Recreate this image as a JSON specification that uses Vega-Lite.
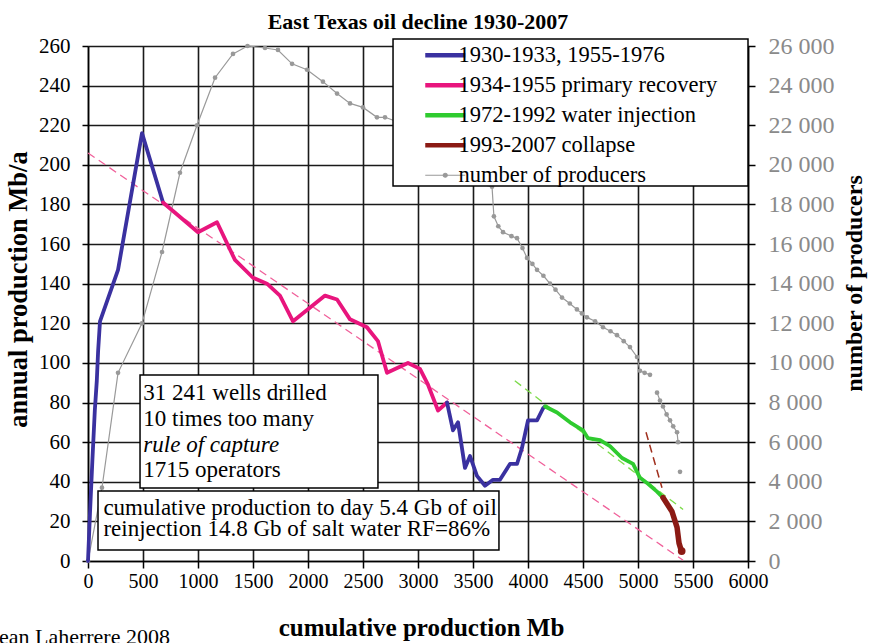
{
  "$schema": "https://vega.github.io/schema/vega-lite/v6.json",
  "width": 660,
  "height": 515,
  "autosize": {"type": "none"},
  "padding": {"left": 88, "top": 46, "right": 122, "bottom": 82},
  "background": "white",
  "title": {"text": "East Texas oil decline 1930-2007", "font": "Liberation Serif", "fontSize": 22, "fontWeight": "bold", "color": "black", "anchor": "middle", "offset": 0},
  "datasets": {
    "prod": [
      {"cum": 0, "mbpa": 0, "period": "1930-1933, 1955-1976", "seg": "a"},
      {"cum": 18, "mbpa": 24, "period": "1930-1933, 1955-1976", "seg": "a"},
      {"cum": 40, "mbpa": 51, "period": "1930-1933, 1955-1976", "seg": "a"},
      {"cum": 62, "mbpa": 76, "period": "1930-1933, 1955-1976", "seg": "a"},
      {"cum": 80, "mbpa": 91, "period": "1930-1933, 1955-1976", "seg": "a"},
      {"cum": 92, "mbpa": 106, "period": "1930-1933, 1955-1976", "seg": "a"},
      {"cum": 109, "mbpa": 121, "period": "1930-1933, 1955-1976", "seg": "a"},
      {"cum": 273, "mbpa": 147, "period": "1930-1933, 1955-1976", "seg": "a"},
      {"cum": 491, "mbpa": 216, "period": "1930-1933, 1955-1976", "seg": "a"},
      {"cum": 682, "mbpa": 181, "period": "1930-1933, 1955-1976", "seg": "a"},
      {"cum": 682, "mbpa": 181, "period": "1934-1955 primary recovery", "seg": "p"},
      {"cum": 1000, "mbpa": 166, "period": "1934-1955 primary recovery", "seg": "p"},
      {"cum": 1173, "mbpa": 171, "period": "1934-1955 primary recovery", "seg": "p"},
      {"cum": 1336, "mbpa": 152, "period": "1934-1955 primary recovery", "seg": "p"},
      {"cum": 1500, "mbpa": 143, "period": "1934-1955 primary recovery", "seg": "p"},
      {"cum": 1627, "mbpa": 140, "period": "1934-1955 primary recovery", "seg": "p"},
      {"cum": 1745, "mbpa": 134, "period": "1934-1955 primary recovery", "seg": "p"},
      {"cum": 1864, "mbpa": 121, "period": "1934-1955 primary recovery", "seg": "p"},
      {"cum": 2155, "mbpa": 134, "period": "1934-1955 primary recovery", "seg": "p"},
      {"cum": 2264, "mbpa": 132, "period": "1934-1955 primary recovery", "seg": "p"},
      {"cum": 2382, "mbpa": 122, "period": "1934-1955 primary recovery", "seg": "p"},
      {"cum": 2536, "mbpa": 118, "period": "1934-1955 primary recovery", "seg": "p"},
      {"cum": 2564, "mbpa": 116, "period": "1934-1955 primary recovery", "seg": "p"},
      {"cum": 2636, "mbpa": 111, "period": "1934-1955 primary recovery", "seg": "p"},
      {"cum": 2718, "mbpa": 95, "period": "1934-1955 primary recovery", "seg": "p"},
      {"cum": 2909, "mbpa": 100, "period": "1934-1955 primary recovery", "seg": "p"},
      {"cum": 3018, "mbpa": 97, "period": "1934-1955 primary recovery", "seg": "p"},
      {"cum": 3091, "mbpa": 89, "period": "1934-1955 primary recovery", "seg": "p"},
      {"cum": 3182, "mbpa": 76, "period": "1934-1955 primary recovery", "seg": "p"},
      {"cum": 3264, "mbpa": 80, "period": "1934-1955 primary recovery", "seg": "p"},
      {"cum": 3264, "mbpa": 80, "period": "1930-1933, 1955-1976", "seg": "b"},
      {"cum": 3318, "mbpa": 66, "period": "1930-1933, 1955-1976", "seg": "b"},
      {"cum": 3364, "mbpa": 70, "period": "1930-1933, 1955-1976", "seg": "b"},
      {"cum": 3427, "mbpa": 47, "period": "1930-1933, 1955-1976", "seg": "b"},
      {"cum": 3473, "mbpa": 53, "period": "1930-1933, 1955-1976", "seg": "b"},
      {"cum": 3536, "mbpa": 43, "period": "1930-1933, 1955-1976", "seg": "b"},
      {"cum": 3609, "mbpa": 38, "period": "1930-1933, 1955-1976", "seg": "b"},
      {"cum": 3682, "mbpa": 41, "period": "1930-1933, 1955-1976", "seg": "b"},
      {"cum": 3745, "mbpa": 41, "period": "1930-1933, 1955-1976", "seg": "b"},
      {"cum": 3836, "mbpa": 49, "period": "1930-1933, 1955-1976", "seg": "b"},
      {"cum": 3900, "mbpa": 49, "period": "1930-1933, 1955-1976", "seg": "b"},
      {"cum": 3945, "mbpa": 57, "period": "1930-1933, 1955-1976", "seg": "b"},
      {"cum": 4000, "mbpa": 71, "period": "1930-1933, 1955-1976", "seg": "b"},
      {"cum": 4082, "mbpa": 71, "period": "1930-1933, 1955-1976", "seg": "b"},
      {"cum": 4136, "mbpa": 77, "period": "1930-1933, 1955-1976", "seg": "b"},
      {"cum": 4155, "mbpa": 78, "period": "1930-1933, 1955-1976", "seg": "b"},
      {"cum": 4155, "mbpa": 78, "period": "1972-1992 water injection", "seg": "g"},
      {"cum": 4264, "mbpa": 75, "period": "1972-1992 water injection", "seg": "g"},
      {"cum": 4382, "mbpa": 70, "period": "1972-1992 water injection", "seg": "g"},
      {"cum": 4500, "mbpa": 66, "period": "1972-1992 water injection", "seg": "g"},
      {"cum": 4545, "mbpa": 62, "period": "1972-1992 water injection", "seg": "g"},
      {"cum": 4655, "mbpa": 61, "period": "1972-1992 water injection", "seg": "g"},
      {"cum": 4745, "mbpa": 58, "period": "1972-1992 water injection", "seg": "g"},
      {"cum": 4855, "mbpa": 52, "period": "1972-1992 water injection", "seg": "g"},
      {"cum": 4955, "mbpa": 49, "period": "1972-1992 water injection", "seg": "g"},
      {"cum": 5018, "mbpa": 42, "period": "1972-1992 water injection", "seg": "g"},
      {"cum": 5091, "mbpa": 39, "period": "1972-1992 water injection", "seg": "g"},
      {"cum": 5173, "mbpa": 35, "period": "1972-1992 water injection", "seg": "g"},
      {"cum": 5227, "mbpa": 32, "period": "1972-1992 water injection", "seg": "g"},
      {"cum": 5227, "mbpa": 32, "period": "1993-2007 collapse", "seg": "r"},
      {"cum": 5309, "mbpa": 25, "period": "1993-2007 collapse", "seg": "r"},
      {"cum": 5355, "mbpa": 17, "period": "1993-2007 collapse", "seg": "r"},
      {"cum": 5373, "mbpa": 9, "period": "1993-2007 collapse", "seg": "r"},
      {"cum": 5395, "mbpa": 5, "period": "1993-2007 collapse", "seg": "r"}
    ],
    "producers": [
      {"cum": 0, "producers": 0, "part": 1},
      {"cum": 127, "producers": 3700, "part": 1},
      {"cum": 273, "producers": 9500, "part": 1},
      {"cum": 491, "producers": 12000, "part": 1},
      {"cum": 673, "producers": 15600, "part": 1},
      {"cum": 836, "producers": 19600, "part": 1},
      {"cum": 991, "producers": 22000, "part": 1},
      {"cum": 1155, "producers": 24400, "part": 1},
      {"cum": 1318, "producers": 25600, "part": 1},
      {"cum": 1450, "producers": 26000, "part": 1},
      {"cum": 1609, "producers": 25900, "part": 1},
      {"cum": 1727, "producers": 25800, "part": 1},
      {"cum": 1855, "producers": 25100, "part": 1},
      {"cum": 1991, "producers": 24800, "part": 1},
      {"cum": 2136, "producers": 24200, "part": 1},
      {"cum": 2264, "producers": 23600, "part": 1},
      {"cum": 2382, "producers": 23100, "part": 1},
      {"cum": 2500, "producers": 22900, "part": 1},
      {"cum": 2627, "producers": 22400, "part": 1},
      {"cum": 2700, "producers": 22400, "part": 1},
      {"cum": 2850, "producers": 22100, "part": 1},
      {"cum": 3000, "producers": 21400, "part": 1},
      {"cum": 3150, "producers": 20600, "part": 1},
      {"cum": 3300, "producers": 19800, "part": 1},
      {"cum": 3450, "producers": 19200, "part": 1},
      {"cum": 3673, "producers": 18900, "part": 1},
      {"cum": 3690, "producers": 17400, "part": 1},
      {"cum": 3730, "producers": 16900, "part": 1},
      {"cum": 3773, "producers": 16600, "part": 1},
      {"cum": 3850, "producers": 16400, "part": 1},
      {"cum": 3900, "producers": 16300, "part": 1},
      {"cum": 3950, "producers": 15800, "part": 1},
      {"cum": 3991, "producers": 15300, "part": 1},
      {"cum": 4040, "producers": 15000, "part": 1},
      {"cum": 4082, "producers": 14700, "part": 1},
      {"cum": 4140, "producers": 14400, "part": 1},
      {"cum": 4200, "producers": 14000, "part": 1},
      {"cum": 4250, "producers": 13700, "part": 1},
      {"cum": 4309, "producers": 13300, "part": 1},
      {"cum": 4380, "producers": 13000, "part": 1},
      {"cum": 4445, "producers": 12700, "part": 1},
      {"cum": 4490, "producers": 12500, "part": 1},
      {"cum": 4536, "producers": 12300, "part": 1},
      {"cum": 4610, "producers": 12100, "part": 1},
      {"cum": 4682, "producers": 11800, "part": 1},
      {"cum": 4750, "producers": 11600, "part": 1},
      {"cum": 4809, "producers": 11400, "part": 1},
      {"cum": 4870, "producers": 11100, "part": 1},
      {"cum": 4927, "producers": 10800, "part": 1},
      {"cum": 4991, "producers": 10300, "part": 1},
      {"cum": 5018, "producers": 9600, "part": 1},
      {"cum": 5060, "producers": 9500, "part": 1},
      {"cum": 5109, "producers": 9400, "part": 1},
      {"cum": 5173, "producers": 8500, "part": 2},
      {"cum": 5200, "producers": 8100, "part": 2},
      {"cum": 5227, "producers": 7800, "part": 2},
      {"cum": 5260, "producers": 7400, "part": 2},
      {"cum": 5291, "producers": 7100, "part": 2},
      {"cum": 5320, "producers": 6800, "part": 2},
      {"cum": 5355, "producers": 6500, "part": 2},
      {"cum": 5364, "producers": 6000, "part": 2},
      {"cum": 5382, "producers": 4500, "part": 3}
    ],
    "trends": [
      {"cum": 0, "mbpa": 206, "trend": "primary"},
      {"cum": 5410, "mbpa": 0.4, "trend": "primary"},
      {"cum": 3880, "mbpa": 91, "trend": "water"},
      {"cum": 5410, "mbpa": 26, "trend": "water"},
      {"cum": 5073, "mbpa": 65, "trend": "collapse"},
      {"cum": 5218, "mbpa": 37, "trend": "collapse"}
    ],
    "frames": [
      {"cum": 2773, "cum2": 6000, "mbpa": 189.3, "mbpa2": 263.5},
      {"cum": 473, "cum2": 2636, "mbpa": 36.9, "mbpa2": 93.9},
      {"cum": 91, "cum2": 3736, "mbpa": 5.6, "mbpa2": 35.3}
    ],
    "notes": [
      {"cum": 503, "mbpa": 81.3, "label": "31 241 wells drilled"},
      {"cum": 503, "mbpa": 68.3, "label": "10 times too many"},
      {"cum": 503, "mbpa": 42.2, "label": "1715 operators"},
      {"cum": 140, "mbpa": 23.4, "label": "cumulative production to day 5.4 Gb of oil"},
      {"cum": 140, "mbpa": 12.8, "label": "reinjection 14.8 Gb of salt water RF=86%"}
    ],
    "italicnotes": [
      {"cum": 503, "mbpa": 55.2, "label": "rule of capture"}
    ],
    "credit": [
      {"cum": 745, "mbpa": -42, "label": "Jean Laherrere 2008"}
    ],
    "enddot": [
      {"cum": 5397, "mbpa": 5}
    ]
  },
  "encoding": {
    "x": {
      "field": "cum", "type": "quantitative",
      "scale": {"domain": [0, 6000], "nice": false, "zero": false},
      "axis": {
        "title": "cumulative production Mb",
        "values": [0, 500, 1000, 1500, 2000, 2500, 3000, 3500, 4000, 4500, 5000, 5500, 6000],
        "format": "d",
        "grid": true, "tickSize": 7, "labelPadding": 3, "labelFontSize": 20,
        "labelFlush": false, "labelOverlap": false,
        "titleFontSize": 25, "titleFontWeight": "bold", "titleBaseline": "alphabetic", "titleX": 333, "titleY": 74
      }
    }
  },
  "layer": [
    {
      "data": {"name": "producers"},
      "mark": {"type": "line", "strokeWidth": 1.2, "point": {"filled": true, "size": 22}},
      "encoding": {
        "y": {
          "field": "producers", "type": "quantitative",
          "scale": {"domain": [0, 26000], "nice": false},
          "axis": {
            "orient": "right", "title": "number of producers",
            "values": [0, 2000, 4000, 6000, 8000, 10000, 12000, 14000, 16000, 18000, 20000, 22000, 24000, 26000],
            "grid": false, "tickSize": 7, "labelPadding": 13, "labelFontSize": 24, "labelColor": "#8a8a8a",
            "labelExpr": "replace(format(datum.value, ','), ',', ' ')", "labelOverlap": false,
            "titleAngle": 270, "titleFontSize": 24, "titleFontWeight": "bold", "titleBaseline": "middle", "titleX": 106, "titleY": 237
          }
        },
        "color": {"datum": "number of producers", "type": "nominal"},
        "detail": {"field": "part", "type": "nominal"}
      }
    },
    {
      "encoding": {
        "y": {
          "field": "mbpa", "type": "quantitative",
          "scale": {"domain": [0, 260], "nice": false},
          "axis": {
            "title": "annual production Mb/a",
            "values": [0, 20, 40, 60, 80, 100, 120, 140, 160, 180, 200, 220, 240, 260],
            "grid": true, "tickSize": 6, "labelPadding": 12, "labelFontSize": 21, "labelOverlap": false,
            "titleAngle": 270, "titleFontSize": 26.5, "titleFontWeight": "bold", "titleBaseline": "middle", "titleX": -70, "titleY": 243
          }
        }
      },
      "layer": [
        {
          "data": {"name": "frames"},
          "mark": {"type": "rect", "fill": "white", "stroke": "black", "strokeWidth": 1.5},
          "encoding": {"x2": {"field": "cum2"}, "y2": {"field": "mbpa2"}}
        },
        {
          "data": {"name": "notes"},
          "mark": {"type": "text", "align": "left", "baseline": "alphabetic", "font": "Liberation Serif", "fontSize": 23, "color": "black"},
          "encoding": {"text": {"field": "label"}}
        },
        {
          "data": {"name": "italicnotes"},
          "mark": {"type": "text", "align": "left", "baseline": "alphabetic", "font": "Liberation Serif", "fontSize": 23, "fontStyle": "italic", "color": "black"},
          "encoding": {"text": {"field": "label"}}
        },
        {
          "data": {"name": "credit"},
          "mark": {"type": "text", "align": "right", "baseline": "alphabetic", "font": "Liberation Serif", "fontSize": 22, "color": "black"},
          "encoding": {"text": {"field": "label"}}
        },
        {
          "data": {"name": "trends"},
          "transform": [{"filter": "datum.trend === 'primary'"}],
          "mark": {"type": "line", "color": "#F0609A", "strokeWidth": 1.3, "strokeDash": [8, 5]},
          "encoding": {}
        },
        {
          "data": {"name": "trends"},
          "transform": [{"filter": "datum.trend === 'water'"}],
          "mark": {"type": "line", "color": "#7CDB4A", "strokeWidth": 1.3, "strokeDash": [8, 5]},
          "encoding": {}
        },
        {
          "data": {"name": "trends"},
          "transform": [{"filter": "datum.trend === 'collapse'"}],
          "mark": {"type": "line", "color": "#A0301E", "strokeWidth": 1.5, "strokeDash": [8, 5]},
          "encoding": {}
        },
        {
          "data": {"name": "prod"},
          "mark": {"type": "line", "strokeJoin": "round", "strokeCap": "round"},
          "encoding": {
            "color": {
              "field": "period", "type": "nominal",
              "scale": {
                "domain": ["1930-1933, 1955-1976", "1934-1955 primary recovery", "1972-1992 water injection", "1993-2007 collapse", "number of producers"],
                "range": ["#3A31A0", "#E8157D", "#2FCB2F", "#8B1A14", "#999999"]
              },
              "legend": {
                "title": null, "orient": "none", "legendX": 346, "legendY": -2,
                "symbolType": "stroke", "symbolSize": 1600, "symbolStrokeWidth": 4.5,
                "labelFont": "Liberation Serif", "labelFontSize": 22.5, "labelColor": "black", "labelLimit": 400,
                "labelOffset": 2, "rowPadding": 7, "padding": 0, "symbolOffset": 0,
                "encode": {"symbols": {"update": {
                  "strokeWidth": {"signal": "datum.value === 'number of producers' ? 1.2 : 4.5"},
                  "shape": {"signal": "datum.value === 'number of producers' ? 'M-1,0H1M-0.1,0A0.1,0.1,0,1,0,0.1,0A0.1,0.1,0,1,0,-0.1,0' : 'stroke'"}
                }}}
              }
            },
            "detail": {"field": "seg", "type": "nominal"},
            "strokeWidth": {"condition": {"test": "datum.period === '1993-2007 collapse'", "value": 5.5}, "value": 3.8}
          }
        },
        {
          "data": {"name": "enddot"},
          "mark": {"type": "circle", "color": "#8B1A14", "size": 60, "opacity": 1},
          "encoding": {}
        }
      ]
    }
  ],
  "resolve": {"scale": {"y": "independent"}},
  "config": {
    "view": {"stroke": null},
    "font": "Liberation Serif",
    "axis": {
      "labelFont": "Liberation Serif", "titleFont": "Liberation Serif",
      "labelColor": "black", "titleColor": "black",
      "domainColor": "black", "domainWidth": 1.5,
      "tickColor": "black", "tickWidth": 1.5,
      "gridColor": "#1a1a1a", "gridWidth": 1.6, "gridOpacity": 1
    }
  }
}
